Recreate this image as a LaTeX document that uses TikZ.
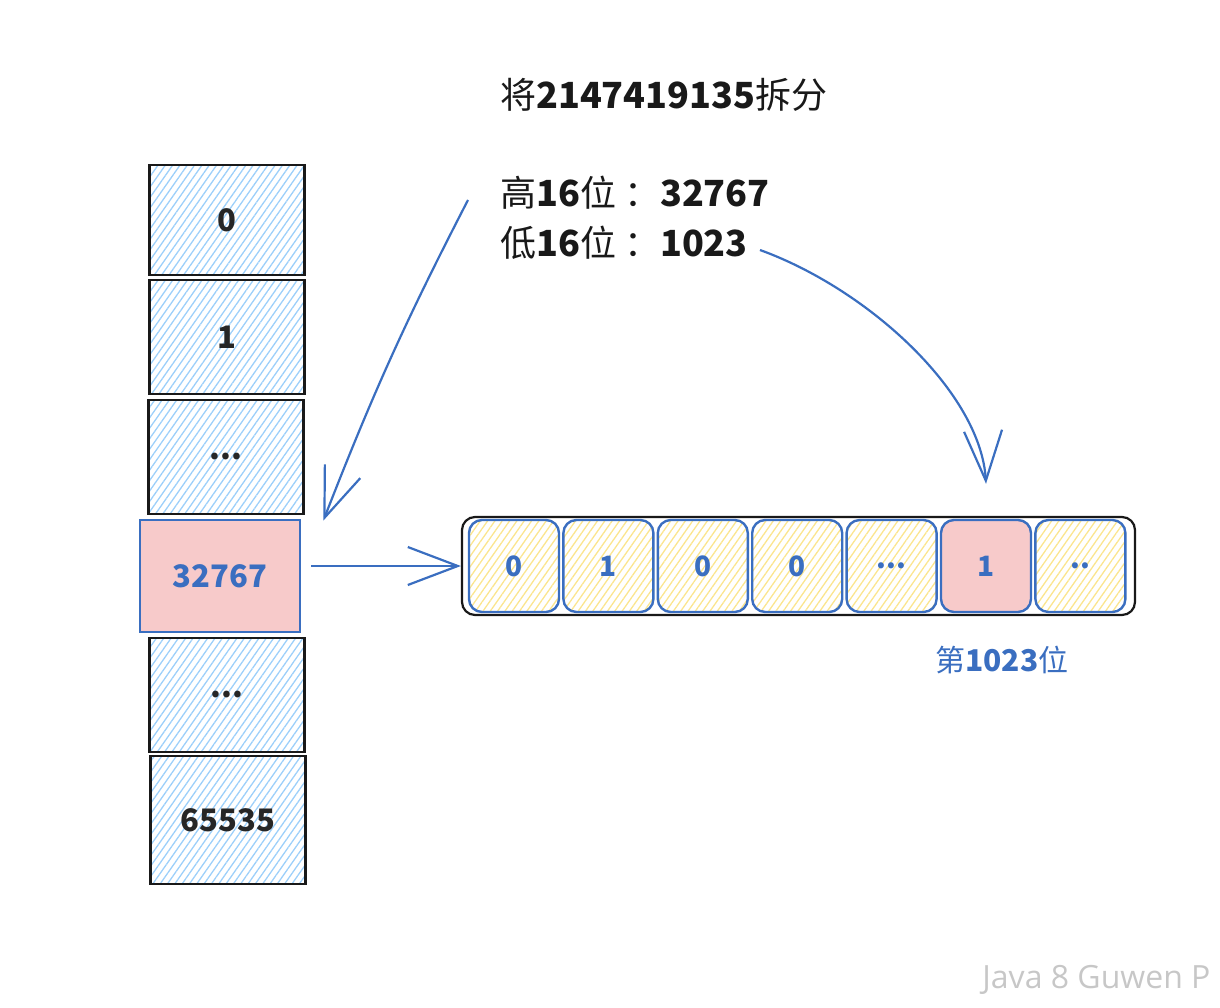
\documentclass[tikz,border=0pt]{standalone}
\usepackage{fontspec}
\newfontfamily\cjk{Noto Sans CJK SC}
\newfontfamily\wmfont{Open Sans}
\usetikzlibrary{arrows.meta,patterns.meta,positioning}
\definecolor{inkblue}{HTML}{3A6EC0}
\definecolor{skyhatch}{HTML}{9CCFFA}
\definecolor{sunhatch}{HTML}{FBE58E}
\definecolor{rosefill}{HTML}{F7CACA}
\tikzset{
	slot/.style={draw=black!90, line width=2.6pt, minimum width=155pt, minimum height=112pt, font=\cjk\bfseries\fontsize{31}{36}\selectfont, text=black!85},
	skyfill/.style={pattern={Lines[angle=55,distance=6pt,line width=1.3pt]}, pattern color=skyhatch},
	bit/.style={draw=inkblue, line width=2.4pt, rounded corners=13pt, minimum width=90pt, minimum height=92pt, font=\cjk\bfseries\fontsize{28}{32}\selectfont, text=inkblue},
	sunfill/.style={pattern={Lines[angle=55,distance=6pt,line width=1.3pt]}, pattern color=sunhatch},
	note/.style={font=\cjk\fontsize{36}{42}\selectfont, text=black!90, anchor=west, inner sep=0pt},
	arr/.style={draw=inkblue, line width=2.2pt, -{Straight Barb[length=50pt,width=38pt]}},
}
\begin{document}
\begin{tikzpicture}[x=1pt,y=-1pt]
	\useasboundingbox (0,0) rectangle (1220,1008);
	
	% texts
	\node[note] (title) at (500,95) {将{\bfseries 2147419135}拆分};
	\node[note] (high) at (500,193) {高{\bfseries 16}位 ：{\bfseries 32767}};
	\node[note] (low) at (500,243) {低{\bfseries 16}位 ：{\bfseries 1023}};
	
	% left column
	\node[slot,skyfill,minimum height=110pt] (c0) at (227,220) {0};
	\node[slot,skyfill,minimum height=114pt] (c1) at (227,337) {1};
	\node[slot,skyfill,minimum height=114pt] (c2) at (226,457) {...};
	\node[slot,skyfill,minimum height=114pt] (c3) at (227,695) {...};
	\node[slot,skyfill,minimum height=128pt] (c4) at (228,820) {65535};
	\node[slot,draw=inkblue,fill=rosefill,text=inkblue,minimum width=160pt] (hit) at (220,576) {32767};
	
	% bitmap
	\node[draw=black!90, line width=2.2pt, rounded corners=13pt, minimum width=673pt, minimum height=98pt] (bar) at (798.5,566) {};
	\node[bit,sunfill] (b1) at (514,566) {0};
	\node[bit,sunfill,right=2pt of b1] (b2) {1};
	\node[bit,sunfill,right=2pt of b2] (b3) {0};
	\node[bit,sunfill,right=2pt of b3] (b4) {0};
	\node[bit,sunfill,right=2pt of b4] (b5) {...};
	\node[bit,fill=rosefill,right=2pt of b5] (b6) {1};
	\node[bit,sunfill,right=2pt of b6] (b7) {..};
	\node[note,text=inkblue,font=\cjk\fontsize{30}{34}\selectfont] (bitnote) at (935,660) {第{\bfseries 1023}位};
	
	% arrows
	\draw[arr] ([xshift=-32pt,yshift=-7pt]high.west) to[bend right=3] ([xshift=22pt,yshift=-2pt]hit.north east);
	\draw[arr] ([xshift=10pt,yshift=10pt]hit.east) -- (bar.west);
	\draw[arr] ([xshift=12pt,yshift=-7pt]low.east) .. controls +(110,40) and +(-5,-90) .. ([yshift=35pt]b6.north);
	
	\node[font=\wmfont\fontsize{32}{36}\selectfont, text=black!22, anchor=east] (mark) at (1214,980) {Java 8 Guwen P};
\end{tikzpicture}
\end{document}
